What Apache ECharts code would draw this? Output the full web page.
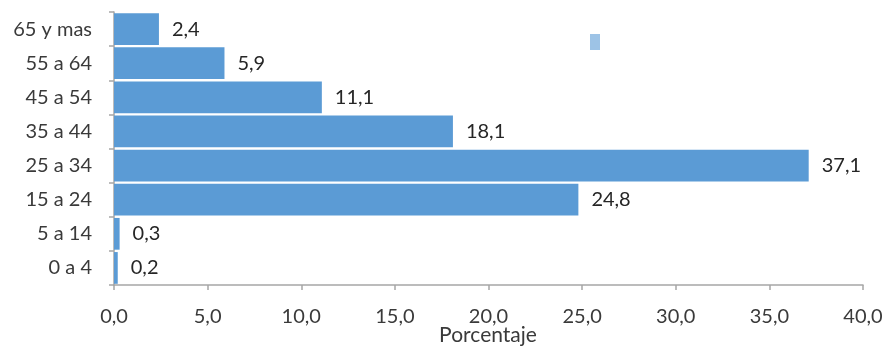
<!DOCTYPE html>
<html><head><meta charset="utf-8">
<script src="https://cdn.jsdelivr.net/npm/echarts@6/dist/echarts.min.js"></script>
<style>html,body{margin:0;padding:0;background:#fff}#c{width:887px;height:348px}</style>
</head><body><div id="c"></div>
<script>
const categories = ['0 a 4', '5 a 14', '15 a 24', '25 a 34', '35 a 44', '45 a 54', '55 a 64', '65 y mas'];
const values = [0.2, 0.3, 24.8, 37.1, 18.1, 11.1, 5.9, 2.4];
const xTicks = [0, 5, 10, 15, 20, 25, 30, 35, 40];
const axisName = 'Porcentaje';
const fmt = v => v.toFixed(1).replace('.', ',');
const chart = echarts.init(document.getElementById('c'));
const font = "Lato, 'Open Sans', sans-serif";
chart.setOption({
  animation: false,
  textStyle: { fontFamily: font },
  title: { text: axisName, left: 488, top: 325, textAlign: 'center', padding: 0,
    textStyle: { color: '#3a3a3a', fontSize: 21, fontWeight: 'normal', fontFamily: font } },
  grid: { left: 114, right: 24, top: 12, bottom: 63, containLabel: false, outerBoundsMode: 'none' },
  xAxis: {
    type: 'value', min: xTicks[0], max: xTicks[xTicks.length - 1], interval: 5,
    axisLine: { show: true, lineStyle: { color: '#a6a6a6', width: 1.5 } },
    axisTick: { show: true, length: 5, lineStyle: { color: '#a6a6a6', width: 1.5 } },
    splitLine: { show: false },
    axisLabel: { formatter: fmt, color: '#3a3a3a', fontSize: 20, margin: 22, fontFamily: font }
  },
  yAxis: {
    type: 'category', data: categories,
    axisLine: { show: true, lineStyle: { color: '#a6a6a6', width: 1.5 } },
    axisTick: { show: true, length: 5, lineStyle: { color: '#a6a6a6', width: 1.5 } },
    axisLabel: { color: '#3a3a3a', fontSize: 20, margin: 22, fontFamily: font }
  },
  series: [{
    type: 'bar', data: values, barCategoryGap: '7%',
    itemStyle: { color: '#5b9bd5' },
    label: { show: true, position: 'right', distance: 13, formatter: p => fmt(p.value),
      color: '#262626', fontSize: 20, fontFamily: font }
  }],
  graphic: [{ type: 'rect', left: 590, top: 34, shape: { width: 10, height: 16 }, style: { fill: '#9dc3e6' } }]
});
</script></body></html>
